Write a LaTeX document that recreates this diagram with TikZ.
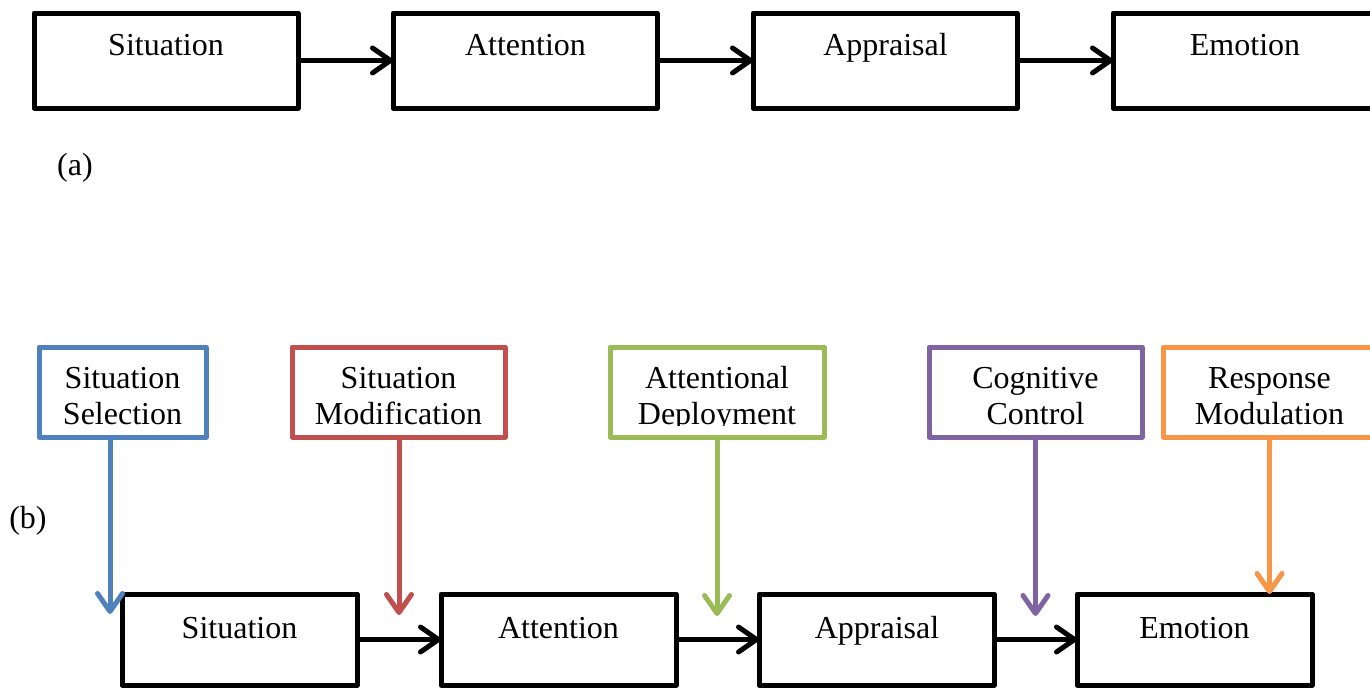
\documentclass[tikz,border=0pt]{standalone}
\usepackage{fontspec}
\setmainfont{Liberation Serif}
\usetikzlibrary{arrows.meta}
\definecolor{cblue}{HTML}{4F81BD}
\definecolor{cred}{HTML}{C0504D}
\definecolor{cgreen}{HTML}{9BBB59}
\definecolor{cpurple}{HTML}{8064A2}
\definecolor{corange}{HTML}{F79646}
\begin{document}
\begin{tikzpicture}[x=1pt,y=-1pt,
  box/.style={draw=black,line width=5pt,rectangle,inner sep=0pt,outer sep=0pt,anchor=north west,line join=round},
  cbox/.style={draw=#1,line width=5pt,rectangle,inner sep=0pt,outer sep=0pt,anchor=north west,minimum width=213pt,minimum height=90pt,line join=round},
  lbl/.style={font=\fontsize{32}{37}\selectfont,inner sep=0pt,anchor=base},
  arr/.style={line width=5pt,-{Straight Barb[length=18pt,width=25pt,round]}},
]
\useasboundingbox (0,0) rectangle (1370,688);
\fill[white] (0,0) rectangle (1370,688);

% ---- (a) row
\foreach \n/\x in {sa/34,aa/393,pa/753,ea/1113}
  \node[box,minimum width=264pt,minimum height=95pt] (\n) at (\x,13) {};
\node[lbl] (tsa) at (166,55) {Situation};
\node[lbl] (taa) at (525.5,55) {Attention};
\node[lbl] (tpa) at (885.5,55) {Appraisal};
\node[lbl] (tea) at (1245,55) {Emotion};
\draw[arr] (sa.east) -- (aa.west);
\draw[arr] (aa.east) -- (pa.west);
\draw[arr] (pa.east) -- (ea.west);
\node[lbl] (la) at (75,175) {(a)};

% ---- (b) label
\node[lbl] (lb) at (28,528) {(b)};

% ---- strategy boxes
\node[cbox=cblue,minimum width=167pt] (ss) at (39,347) {};
\node[cbox=cred,minimum width=213pt] (sm) at (292,347) {};
\node[cbox=cgreen,minimum width=214pt] (ad) at (610,347) {};
\node[cbox=cpurple,minimum width=213pt] (cc) at (929,347) {};
\node[cbox=corange,minimum width=213pt] (rm) at (1163,347) {};

\foreach \b/\x/\la/\lb in {ss/122.5/Situation/Selection,sm/398.5/Situation/Modification,ad/717/Attentional/Deployment,cc/1035.5/Cognitive/Control,rm/1269.5/Response/Modulation}{
  \begin{scope}
    \clip ([shift={(2.5,2.5)}]\b.north west) rectangle ([shift={(-2.5,0)}]\b.east |- 0,425.5);
    \node[lbl] (\b1) at (\x,388) {\la};
    \node[lbl] (\b2) at (\x,424.5) {\lb};
  \end{scope}
}

% ---- (b) row
\foreach \n/\x in {sb/122,ab/441,pb/759,eb/1077}
  \node[box,minimum width=235pt,minimum height=91pt] (\n) at (\x,594) {};
\node[lbl] (tsb) at (239.5,638) {Situation};
\node[lbl] (tab) at (558.5,638) {Attention};
\node[lbl] (tpb) at (877,638) {Appraisal};
\node[lbl] (teb) at (1194.5,638) {Emotion};
\draw[arr] (sb.east) -- (ab.west);
\draw[arr] (ab.east) -- (pb.west);
\draw[arr] (pb.east) -- (eb.west);

% ---- strategy arrows
\coordinate (tb) at (110,614);
\coordinate (tr) at (399,615);
\coordinate (tg) at (717,616);
\coordinate (tp) at (1035.5,616);
\draw[arr,cblue] (ss.south -| tb) -- (tb);
\draw[arr,cred] (sm.south -| tr) -- (tr);
\draw[arr,cgreen] (ad.south -| tg) -- (tg);
\draw[arr,cpurple] (cc.south -| tp) -- (tp);
\draw[arr,corange] (rm.south) -- (rm.south |- eb.north);
\end{tikzpicture}
\end{document}
